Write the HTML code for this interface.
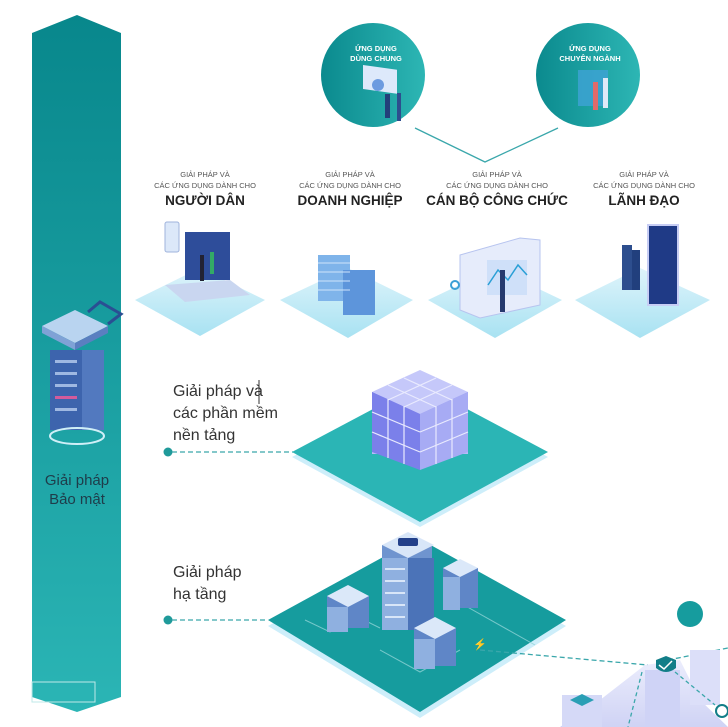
<!DOCTYPE html>
<html><head><meta charset="utf-8"><style>
html,body{margin:0;padding:0;background:#fff;width:728px;height:727px;overflow:hidden}
svg{display:block}
</style></head><body>
<svg width="728" height="727" viewBox="0 0 728 727" xmlns="http://www.w3.org/2000/svg" font-family="Liberation Sans, sans-serif">
<defs>
<linearGradient id="bar" x1="0" y1="0" x2="0" y2="1"><stop offset="0" stop-color="#08878c"/><stop offset="1" stop-color="#2bb5b5"/></linearGradient>
<linearGradient id="circ" x1="0" y1="0" x2="1" y2="0"><stop offset="0" stop-color="#0b8a8e"/><stop offset="1" stop-color="#2db6b4"/></linearGradient>
<linearGradient id="tile" x1="0" y1="0" x2="0" y2="1"><stop offset="0" stop-color="#dff4fb"/><stop offset="1" stop-color="#a8e2f2"/></linearGradient>
<linearGradient id="cube" x1="0" y1="0" x2="0" y2="1"><stop offset="0" stop-color="#8a8ef0"/><stop offset="1" stop-color="#b7bbf7"/></linearGradient>
<linearGradient id="city" x1="0" y1="0" x2="0" y2="1"><stop offset="0" stop-color="#e8eafc"/><stop offset="1" stop-color="#c7cbf3"/></linearGradient>
</defs>
<!-- left bar -->
<polygon points="32,33 77,15 121,33 121,697 77,712 32,697" fill="url(#bar)"/>
<rect x="32" y="682" width="63" height="20" fill="none" stroke="#bfe8e8" stroke-width="1"/>
<!-- security server icon -->
<polygon points="42,326 75,310 108,326 75,343" fill="#b9d4f0"/>
<polygon points="42,326 75,343 75,350 42,333" fill="#7fa2d6"/>
<polygon points="108,326 75,343 75,350 108,333" fill="#5a7fc0"/>
<path d="M88,312 L100,302 L121,314 L108,324" fill="none" stroke="#2a4f93" stroke-width="3"/>
<rect x="50" y="350" width="32" height="80" fill="#3d64ad"/>
<rect x="82" y="350" width="22" height="80" fill="#5279bf"/>
<g fill="#9fb8e2"><rect x="55" y="360" width="22" height="3"/><rect x="55" y="372" width="22" height="3"/><rect x="55" y="384" width="22" height="3"/><rect x="55" y="396" width="22" height="3" fill="#d35b9c"/><rect x="55" y="408" width="22" height="3"/></g>
<ellipse cx="77" cy="436" rx="27" ry="8" fill="none" stroke="#cfeff7" stroke-width="2"/>
<text x="77" y="485" text-anchor="middle" font-size="15" fill="#1f3c4a">Giải pháp</text>
<text x="77" y="504" text-anchor="middle" font-size="15" fill="#1f3c4a">Bảo mật</text>
<!-- circles -->
<circle cx="373" cy="75" r="52" fill="url(#circ)"/>
<circle cx="588" cy="75" r="52" fill="url(#circ)"/>
<text x="376" y="51" text-anchor="middle" font-size="7.5" font-weight="bold" fill="#fff">ỨNG DỤNG</text>
<text x="376" y="61" text-anchor="middle" font-size="7.5" font-weight="bold" fill="#fff">DÙNG CHUNG</text>
<text x="590" y="51" text-anchor="middle" font-size="7.5" font-weight="bold" fill="#fff">ỨNG DỤNG</text>
<text x="590" y="61" text-anchor="middle" font-size="7.5" font-weight="bold" fill="#fff">CHUYÊN NGÀNH</text>
<rect x="363" y="66" width="34" height="24" fill="#dde9fb" transform="skewY(8) translate(0,-52)"/>
<circle cx="378" cy="85" r="6" fill="#6c9be0"/>
<rect x="397" y="93" width="4" height="28" fill="#2d4e8e"/>
<rect x="385" y="94" width="5" height="24" fill="#233f7a"/>
<rect x="578" y="70" width="30" height="36" fill="#3ea3d6" opacity="0.8"/>
<rect x="593" y="82" width="5" height="28" fill="#e16a6a"/>
<rect x="603" y="78" width="5" height="30" fill="#dfe9f7"/>
<polyline points="415,128 485,162 558,128" fill="none" stroke="#3aa7ab" stroke-width="1.3"/>
<!-- titles -->
<g text-anchor="middle" fill="#555" font-size="7.5">
<text x="205" y="177">GIẢI PHÁP VÀ</text><text x="205" y="188">CÁC ỨNG DỤNG DÀNH CHO</text>
<text x="350" y="177">GIẢI PHÁP VÀ</text><text x="350" y="188">CÁC ỨNG DỤNG DÀNH CHO</text>
<text x="497" y="177">GIẢI PHÁP VÀ</text><text x="497" y="188">CÁC ỨNG DỤNG DÀNH CHO</text>
<text x="644" y="177">GIẢI PHÁP VÀ</text><text x="644" y="188">CÁC ỨNG DỤNG DÀNH CHO</text>
</g>
<g text-anchor="middle" fill="#222" font-size="13.5" font-weight="bold">
<text x="205" y="205">NGƯỜI DÂN</text>
<text x="350" y="205">DOANH NGHIỆP</text>
<text x="497" y="205">CÁN BỘ CÔNG CHỨC</text>
<text x="644" y="205">LÃNH ĐẠO</text>
</g>
<!-- tiles -->
<g fill="url(#tile)">
<polygon points="135,300 200,268 265,300 200,336"/>
<polygon points="280,300 348,268 413,300 348,338"/>
<polygon points="428,300 495,268 562,300 495,338"/>
<polygon points="575,300 640,268 710,300 640,338"/>
</g>
<!-- card illustrations -->
<rect x="165" y="222" width="14" height="30" rx="2" fill="#dce8f9" stroke="#9fb3dc"/>
<rect x="185" y="232" width="45" height="48" fill="#2e4d9a"/>
<polygon points="165,285 230,280 250,295 185,302" fill="#c9d6f0"/>
<rect x="200" y="255" width="4" height="26" fill="#223"/><rect x="210" y="252" width="4" height="22" fill="#3a6"/>
<rect x="318" y="255" width="32" height="46" fill="#7fb4ea"/>
<rect x="343" y="270" width="32" height="45" fill="#5d95db"/>
<g stroke="#cfe4fb" stroke-width="1"><line x1="318" y1="263" x2="350" y2="263"/><line x1="318" y1="272" x2="350" y2="272"/><line x1="318" y1="281" x2="350" y2="281"/><line x1="318" y1="290" x2="350" y2="290"/></g>
<polygon points="460,255 520,238 540,240 540,305 480,318 460,310" fill="#e6ecfb" stroke="#b7c4ef"/>
<rect x="487" y="260" width="40" height="35" fill="#cfe0f9"/>
<polyline points="488,285 498,270 508,280 518,265 527,275" fill="none" stroke="#2a9fd6" stroke-width="1.5"/>
<rect x="500" y="270" width="5" height="42" fill="#263a6e"/>
<circle cx="455" cy="285" r="4" fill="none" stroke="#3b9fd6" stroke-width="2"/>
<rect x="648" y="225" width="30" height="80" fill="#1f3a86" stroke="#c7cdf4" stroke-width="2"/>
<rect x="622" y="245" width="10" height="45" fill="#2d4e8e"/><rect x="632" y="250" width="8" height="40" fill="#213f7d"/>
<!-- labels left -->
<g fill="#333" font-size="16">
<text x="173" y="396">Giải pháp và</text>
<text x="173" y="418">các phần mềm</text>
<text x="173" y="440">nền tảng</text>
<text x="173" y="577">Giải pháp</text>
<text x="173" y="599">hạ tầng</text>
</g>
<line x1="259" y1="380" x2="259" y2="404" stroke="#333" stroke-width="1"/>
<circle cx="168" cy="452" r="4.5" fill="#1f9a9a"/>
<line x1="172" y1="452" x2="293" y2="452" stroke="#3aa7ab" stroke-width="1.3" stroke-dasharray="5,3"/>
<circle cx="168" cy="620" r="4.5" fill="#1f9a9a"/>
<line x1="172" y1="620" x2="268" y2="620" stroke="#3aa7ab" stroke-width="1.3" stroke-dasharray="5,3"/>
<!-- platform 1 -->
<polygon points="292,452 420,384 548,452 420,522" fill="#cdeefa" transform="translate(0,5)"/>
<polygon points="292,452 420,384 548,452 420,522" fill="#2bb5b5"/>
<!-- cubes -->
<g>
<rect x="372" y="392" width="96" height="62" fill="url(#cube)"/>
<polygon points="372,392 420,370 468,392 420,414" fill="#c5c8fa"/>
<polygon points="372,392 420,414 420,470 372,452" fill="#7b80ea"/>
<polygon points="468,392 420,414 420,470 468,452" fill="#a7abf4"/>
<g stroke="#e9eafe" stroke-width="1.2" fill="none">
<line x1="372" y1="412" x2="420" y2="432"/><line x1="372" y1="432" x2="420" y2="452"/>
<line x1="468" y1="412" x2="420" y2="432"/><line x1="468" y1="432" x2="420" y2="452"/>
<line x1="388" y1="399" x2="388" y2="458"/><line x1="404" y1="406" x2="404" y2="464"/>
<line x1="436" y1="406" x2="436" y2="464"/><line x1="452" y1="399" x2="452" y2="458"/>
<line x1="388" y1="385" x2="436" y2="407"/><line x1="404" y1="378" x2="452" y2="400"/>
<line x1="452" y1="385" x2="404" y2="407"/><line x1="436" y1="378" x2="388" y2="400"/>
</g>
</g>
<!-- platform 2 -->
<polygon points="268,620 418,538 566,620 420,712" fill="#cdeefa" transform="translate(0,6)"/>
<polygon points="268,620 418,538 566,620 420,712" fill="#169c9e"/>
<g stroke="#8fd3d6" stroke-width="1" fill="none" opacity="0.8">
<polyline points="305,620 330,632 360,618 380,628"/>
<polyline points="380,650 420,672 460,650"/>
<line x1="455" y1="600" x2="535" y2="645"/>
</g>
<!-- servers -->
<rect x="382" y="545" width="50" height="80" fill="#6f94cf"/>
<polygon points="382,545 408,532 434,545 408,558" fill="#d8e6f8"/>
<rect x="382" y="558" width="26" height="72" fill="#8fb0e0"/><rect x="408" y="558" width="26" height="72" fill="#4b73b8"/>
<rect x="398" y="538" width="20" height="8" rx="2" fill="#23408a"/>
<g fill="#d8e6f8"><rect x="385" y="568" width="20" height="2"/><rect x="385" y="580" width="20" height="2"/><rect x="385" y="592" width="20" height="2"/><rect x="385" y="604" width="20" height="2"/><rect x="385" y="616" width="20" height="2"/></g>
<g>
<rect x="327" y="596" width="42" height="32" fill="#5f86c7"/><polygon points="327,596 348,585 369,596 348,607" fill="#dbe8f9"/>
<rect x="327" y="607" width="21" height="25" fill="#8fb0e0"/>
<rect x="443" y="568" width="35" height="40" fill="#5f86c7"/><polygon points="443,568 460,559 478,568 460,577" fill="#dbe8f9"/>
<rect x="443" y="577" width="17" height="33" fill="#8fb0e0"/>
<rect x="414" y="628" width="42" height="38" fill="#5f86c7"/><polygon points="414,628 435,617 456,628 435,639" fill="#dbe8f9"/>
<rect x="414" y="639" width="21" height="30" fill="#8fb0e0"/>
</g>
<text x="473" y="648" font-size="11" fill="#fff">⚡</text>
<!-- city -->
<circle cx="690" cy="614" r="13" fill="#169c9e"/>
<line x1="480" y1="650" x2="648" y2="665" stroke="#3aa7ab" stroke-width="1.3" stroke-dasharray="5,3"/>
<line x1="668" y1="660" x2="728" y2="648" stroke="#3aa7ab" stroke-width="1.3" stroke-dasharray="5,3"/>
<polygon points="645,665 680,660 700,700 728,727 560,727 600,700" fill="url(#city)" opacity="0.85"/>
<rect x="690" y="650" width="30" height="55" fill="#dcdff9"/>
<rect x="645" y="670" width="35" height="57" fill="#cfd3f6"/>
<rect x="562" y="695" width="40" height="32" fill="#d5d9f7"/>
<polygon points="570,700 582,694 594,700 582,706" fill="#2a9fb5"/>
<path d="M656,660 L666,656 L676,660 L676,668 Q666,676 656,668 Z" fill="#127e88"/>
<path d="M659,665 L664,669 L672,661" stroke="#fff" stroke-width="1.5" fill="none"/>
<circle cx="722" cy="711" r="6" fill="#fff" stroke="#127e88" stroke-width="2"/>
<line x1="642" y1="672" x2="628" y2="727" stroke="#3aa7ab" stroke-width="1.3" stroke-dasharray="4,3"/>
<line x1="675" y1="672" x2="715" y2="705" stroke="#3aa7ab" stroke-width="1.3" stroke-dasharray="4,3"/>
</svg>
</body></html>
